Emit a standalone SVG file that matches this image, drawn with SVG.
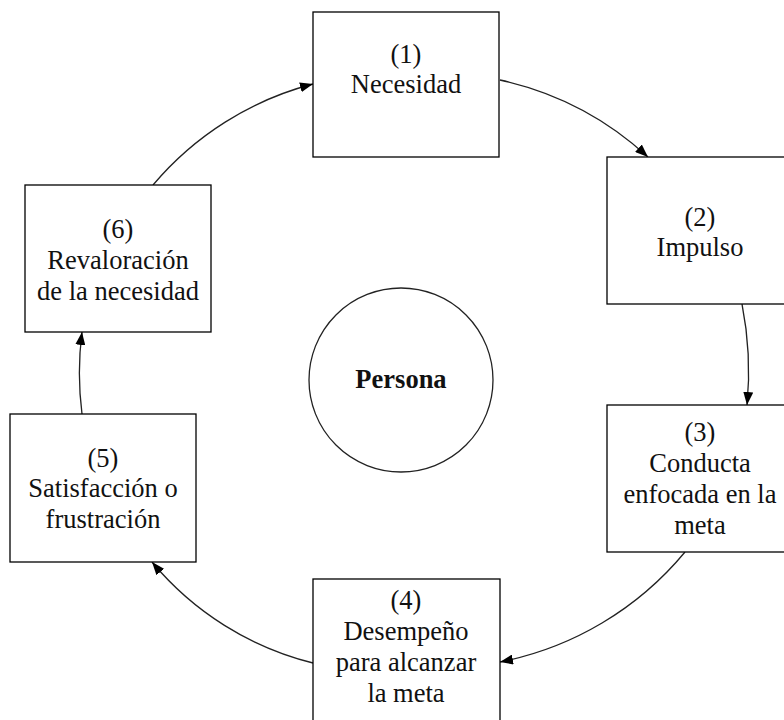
<svg xmlns="http://www.w3.org/2000/svg" width="784" height="720" viewBox="0 0 784 720">
<style>
.box{fill:#fff;stroke:#000;stroke-width:1.3}
.t{font-family:"Liberation Serif","Times New Roman",serif;font-size:26.5px;fill:#111;text-anchor:middle}
.b{font-weight:bold}
.c{fill:none;stroke:#222;stroke-width:1.3}
</style>
<defs>
<marker id="ah" markerUnits="userSpaceOnUse" markerWidth="14" markerHeight="10" refX="13" refY="5" orient="auto">
<path d="M0,0 L13,5 L0,10 z" fill="#000"/>
</marker>
</defs>
<rect width="784" height="720" fill="#fff"/>
<g id="connectors">
<path class="c" marker-end="url(#ah)" d="M500,80 A320,320 0 0 1 648,157"/>
<path class="c" marker-end="url(#ah)" d="M742,304 A348,348 0 0 1 747,405"/>
<path class="c" marker-end="url(#ah)" d="M685,552 A320,320 0 0 1 500,662"/>
<path class="c" marker-end="url(#ah)" d="M313,663 A305,305 0 0 1 152,562"/>
<path class="c" marker-end="url(#ah)" d="M82,414 A322,322 0 0 1 82,332"/>
<path class="c" marker-end="url(#ah)" d="M153,185 A312,312 0 0 1 313,84"/>
</g>
<g id="n1">
<rect class="box" x="313" y="12" width="186" height="145"/>
<text class="t" x="406" y="63">(1)</text>
<text class="t" x="406" y="93">Necesidad</text>
</g>
<g id="n2">
<rect class="box" x="607" y="157" width="186" height="147"/>
<text class="t" x="700" y="226">(2)</text>
<text class="t" x="700" y="256">Impulso</text>
</g>
<g id="n3">
<rect class="box" x="607" y="405" width="186" height="147"/>
<text class="t" x="700" y="441">(3)</text>
<text class="t" x="700" y="472">Conducta</text>
<text class="t" x="700" y="503">enfocada en la</text>
<text class="t" x="700" y="534">meta</text>
</g>
<g id="n4">
<rect class="box" x="313" y="579" width="187" height="147"/>
<text class="t" x="406" y="609">(4)</text>
<text class="t" x="406" y="640">Desempeño</text>
<text class="t" x="406" y="671">para alcanzar</text>
<text class="t" x="406" y="702">la meta</text>
</g>
<g id="n5">
<rect class="box" x="10" y="414" width="186" height="148"/>
<text class="t" x="103" y="467">(5)</text>
<text class="t" x="103" y="497">Satisfacción o</text>
<text class="t" x="103" y="528">frustración</text>
</g>
<g id="n6">
<rect class="box" x="25" y="185" width="186" height="147"/>
<text class="t" x="118" y="238">(6)</text>
<text class="t" x="118" y="269">Revaloración</text>
<text class="t" x="118" y="300">de la necesidad</text>
</g>
<g id="persona">
<circle cx="401" cy="380" r="92" fill="#fff" stroke="#222" stroke-width="1.3"/>
<text class="t b" x="401" y="388">Persona</text>
</g>
</svg>
